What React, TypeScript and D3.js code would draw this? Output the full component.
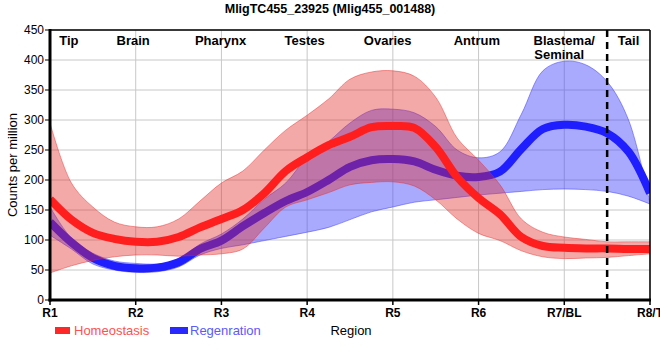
import React from "react";
import * as d3 from "d3";

const positions = [0,0.25,0.5,0.75,1,1.25,1.5,1.75,2,2.25,2.5,2.75,3,3.25,3.5,3.75,4,4.25,4.5,4.75,5,5.25,5.5,5.75,6,6.25,6.5,6.75,7];

const homeoMean = [168,134,112,102,97,97,105,121,135,150,178,215,238,258,272,288,290,287,255,205,170,143,105,90,87,86,86,85,85];
const homeoUpper = [295,195,155,130,122,122,135,165,195,215,250,283,308,335,368,380,382,373,338,270,233,192,135,113,105,101,97,97,97];
const homeoLower = [45,57,66,72,75,75,73,75,77,85,120,155,167,179,192,196,197,190,167,135,111,99,82,72,69,70,71,74,77];

const regenMean = [130,96,70,57,53,54,63,85,99,123,145,165,180,200,222,233,235,231,217,207,205,214,252,285,292,289,278,247,178];
const regenUpper = [155,103,78,65,61,60,66,93,110,135,168,195,238,264,295,316,318,312,289,250,237,247,310,382,398,392,364,300,161];
const regenLower = [108,85,60,50,46,47,55,75,86,92,99,106,113,121,134,147,155,163,167,171,175,178,181,184,185,184,181,173,160];

const xTickLabels = ["R1","R2","R3","R4","R5","R6","R7/BL","R8/T"];
const yTicks = [0,50,100,150,200,250,300,350,400,450];
const regionLabels = ["Tip","Brain","Pharynx","Testes","Ovaries","Antrum","Blastema/","Tail"];
const regionLabelPos = [0.22,0.97,1.99,2.97,3.94,4.98,6.0,6.75];
const boundaryPos = 6.5;

const W = 660, H = 360;
const M = { left: 50, right: 10, top: 30, bottom: 60 };

export default function App() {
  const x = d3.scaleLinear().domain([0, 7]).range([M.left, W - M.right]);
  const y = d3.scaleLinear().domain([0, 450]).range([H - M.bottom, M.top]);
  const curve = d3.curveCatmullRom.alpha(0.5);

  const area = (up: number[], lo: number[]) =>
    d3.area<number>().x((d) => x(positions[d])).y0((d) => y(lo[d])).y1((d) => y(up[d])).curve(curve)(positions.map((_, i) => i)) || "";
  const line = (v: number[]) =>
    d3.line<number>().x((d) => x(positions[d])).y((d) => y(v[d])).curve(curve)(positions.map((_, i) => i)) || "";
  const edge = line;

  const font = "Arial, 'Liberation Sans', sans-serif";
  const x0 = M.left, x1 = W - M.right, y0 = H - M.bottom, y1 = M.top;

  return (
    <svg width={W} height={H} style={{ position: "absolute", left: 0, top: 0, background: "#fff" }} fontFamily={font}>
      <defs>
        <clipPath id="plotclip">
          <rect x={x0} y={y1} width={x1 - x0} height={y0 - y1} />
        </clipPath>
      </defs>
      <text x={W / 2} y={13} textAnchor="middle" fontWeight="bold" fontSize={12.5}>MligTC455_23925 (Mlig455_001488)</text>

      {/* grid */}
      {yTicks.map((t) => (
        <line key={"gy" + t} x1={x0} x2={x1} y1={y(t)} y2={y(t)} stroke="#c8c8c8" strokeWidth={1} />
      ))}
      {xTickLabels.map((_, i) => (
        <line key={"gx" + i} x1={x(i)} x2={x(i)} y1={y0} y2={y1} stroke="#c8c8c8" strokeWidth={1} />
      ))}

      <g clipPath="url(#plotclip)">
        <path d={area(regenUpper, regenLower)} fill="rgb(60,60,250)" fillOpacity={0.44} />
        <path d={edge(regenUpper)} fill="none" stroke="rgb(60,60,250)" strokeOpacity={0.5} strokeWidth={1} />
        <path d={edge(regenLower)} fill="none" stroke="rgb(60,60,250)" strokeOpacity={0.5} strokeWidth={1} />
        <path d={line(regenMean)} fill="none" stroke="rgb(30,30,255)" strokeWidth={8} />
        <path d={area(homeoUpper, homeoLower)} fill="rgb(228,40,40)" fillOpacity={0.4} />
        <path d={edge(homeoUpper)} fill="none" stroke="rgb(228,40,40)" strokeOpacity={0.45} strokeWidth={1} />
        <path d={edge(homeoLower)} fill="none" stroke="rgb(228,40,40)" strokeOpacity={0.45} strokeWidth={1} />
        <path d={line(homeoMean)} fill="none" stroke="rgb(255,30,30)" strokeWidth={8} />
      </g>

      {/* boundary */}
      <line x1={x(boundaryPos)} x2={x(boundaryPos)} y1={y1} y2={y0 + 5} stroke="#000" strokeWidth={2.5} strokeDasharray="7,5" />

      {/* frame */}
      <line x1={x0} x2={x1} y1={y1} y2={y1} stroke="#000" strokeWidth={1.5} />
      <line x1={x1} x2={x1} y1={y1} y2={y0} stroke="#000" strokeWidth={1.5} />
      <line x1={x0} x2={x0} y1={y1 - 1} y2={y0 + 1.5} stroke="#000" strokeWidth={3} />
      <line x1={x0 - 1.5} x2={x1 + 1} y1={y0} y2={y0} stroke="#000" strokeWidth={3} />

      {/* y ticks */}
      {yTicks.map((t) => (
        <g key={"yt" + t}>
          <line x1={x0 - 5} x2={x0} y1={y(t)} y2={y(t)} stroke="#000" strokeWidth={1} />
          <text x={x0 - 6} y={y(t) + 4} textAnchor="end" fontSize={12}>{t}</text>
        </g>
      ))}
      {/* x ticks */}
      {xTickLabels.map((l, i) => (
        <g key={"xt" + i}>
          <line x1={x(i)} x2={x(i)} y1={y0} y2={y0 + 5} stroke="#000" strokeWidth={1.5} />
          <text x={x(i)} y={y0 + 17} textAnchor="middle" fontSize={12} fontWeight="bold">{l}</text>
        </g>
      ))}

      {/* region labels */}
      {regionLabels.map((l, i) => (
        <text key={"rl" + i} x={x(regionLabelPos[i])} y={45} textAnchor="middle" fontSize={13} fontWeight="bold">{l}</text>
      ))}
      <text x={x(regionLabelPos[6]) - 30} y={59} fontSize={13} fontWeight="bold">Seminal</text>

      {/* axis labels */}
      <text transform={`translate(17,${(y0 + y1) / 2}) rotate(-90)`} textAnchor="middle" fontSize={13}>Counts per million</text>
      <text x={351} y={335} textAnchor="middle" fontSize={13}>Region</text>

      {/* legend */}
      <rect x={55} y={327} width={15} height={7} fill="rgb(255,40,40)" />
      <text x={74} y={335} fontSize={13} fill="rgb(255,80,80)">Homeostasis</text>
      <rect x={170} y={327} width={18} height={7} fill="rgb(40,40,255)" />
      <text x={190} y={335} fontSize={13} fill="rgb(90,90,255)">Regenration</text>
    </svg>
  );
}
